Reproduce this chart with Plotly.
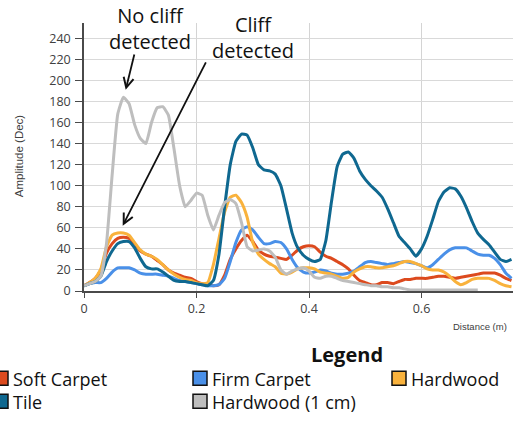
import plotly.graph_objects as go

# ---------------- data ----------------
distance_m = [round(i * 0.01, 2) for i in range(77)]  # 0.00 .. 0.76 m sample grid

soft_carpet = [5, 8, 12, 20, 36, 45, 50, 51, 50, 45,
               38, 35, 33, 29, 25, 20, 17, 15, 13, 12,
               9, 7, 6, 5, 6, 15, 30, 40, 48, 53,
               47, 39, 35, 33, 32, 31, 30, 34, 39, 42,
               43, 42, 37, 33, 31, 28, 25, 21, 15, 10,
               8, 6, 6, 8, 8, 7, 9, 11, 11, 12,
               12, 12, 13, 14, 14, 13, 12, 13, 14, 15,
               16, 17, 17, 17, 15, 12, 10]

firm_carpet = [5, 7, 8, 8, 12, 18, 22, 22, 22, 20,
               17, 16, 16, 16, 15, 14, 12, 10, 9, 8,
               7, 6, 5, 5, 6, 12, 28, 46, 58, 61,
               58, 51, 45, 45, 47, 46, 40, 30, 22, 18,
               17, 18, 20, 19, 17, 16, 16, 17, 19, 23,
               27, 28, 27, 26, 25, 26, 27, 28, 27, 26,
               24, 22, 25, 30, 35, 39, 41, 41, 41, 38,
               35, 34, 34, 31, 25, 17, 12]

hardwood = [5, 8, 12, 21, 42, 53, 55, 55, 53, 46,
            39, 35, 33, 30, 25, 20, 16, 13, 11, 10,
            8, 7, 8, 25, 50, 75, 89, 91, 84, 70,
            46, 35, 30, 26, 23, 17, 16, 18, 21, 22,
            22, 21, 18, 17, 16, 14, 12, 13, 18, 21,
            23, 23, 22, 22, 23, 24, 26, 28, 28, 26,
            24, 21, 20, 20, 18, 14, 9, 6, 8, 11,
            12, 12, 12, 10, 7, 5, 4]

tile = [5, 7, 9, 14, 28, 38, 45, 47, 47, 41,
        31, 23, 21, 21, 18, 14, 10, 9, 9, 8,
        7, 6, 5, 10, 35, 80, 120, 142, 149, 148,
        136, 120, 115, 114, 111, 100, 78, 55, 41, 34,
        30, 28, 30, 48, 85, 118, 130, 132, 126, 114,
        106, 100, 95, 89, 78, 65, 52, 46, 40, 33,
        40, 52, 68, 85, 94, 98, 97, 90, 79, 66,
        55, 49, 44, 37, 30, 28, 30]

hardwood_1cm = [5, 7, 9, 14, 45, 110, 168, 184, 178, 158,
                145, 140, 160, 174, 175, 167, 135, 100, 80, 86,
                93, 91, 72, 58, 72, 84, 87, 83, 65, 42,
                38, 39, 40, 38, 32, 20, 16, 19, 21, 22,
                19, 13, 12, 14, 14, 12, 10, 9, 8, 7,
                6, 5, 5, 4, 4, 3, 3, 2, 1, 1,
                1, 1, 1, 1, 1, 1, 1, 1, 1, 1, 1]   # ends at 0.70 m

series_names = ["Soft Carpet", "Firm Carpet", "Hardwood", "Tile", "Hardwood (1 cm)"]
series_values = [soft_carpet, firm_carpet, hardwood, tile, hardwood_1cm]
series_colors = ["#DC4A1E", "#4A90E8", "#F9B23C", "#0F6890", "#BEBEBE"]

x_ticks = [0, 0.2, 0.4, 0.6]
x_tick_labels = ["0", "0.2", "0.4", "0.6"]
y_ticks = list(range(0, 241, 20))

# ---------------- layout geometry (pixels) ----------------
W, H = 513, 424
PL, PR, PT, PB = 84, 513, 23, 291.5


def px_x(px):
    return (px - PL) / (PR - PL)


def px_y(py):
    return (PB - py) / (PB - PT)


fig = go.Figure()
for name, vals, col in zip(series_names, series_values, series_colors):
    fig.add_trace(go.Scatter(
        x=distance_m[:len(vals)], y=vals, name=name, mode="lines",
        line=dict(color=col, width=3, shape="spline", smoothing=0.4),
        showlegend=False, hoverinfo="x+y+name",
    ))

tick_font = dict(family="Open Sans, Liberation Sans, Arial", size=12.5, color="#404040")

fig.update_layout(
    width=W, height=H,
    margin=dict(l=PL, r=W - PR, t=PT, b=H - PB, pad=0),
    paper_bgcolor="white", plot_bgcolor="white",
    showlegend=False,
    xaxis=dict(
        range=[0, (PR - PL) / 562.5], tickvals=x_ticks, ticktext=x_tick_labels,
        showgrid=True, gridcolor="#D4D4D4", gridwidth=1, zeroline=False,
        showline=True, linecolor="#4A4A4A", linewidth=1.5,
        ticks="outside", ticklen=5, tickcolor="#4A4A4A", tickwidth=1,
        tickfont=tick_font,
    ),
    yaxis=dict(
        range=[0, (PB - PT) / 1.055], tickvals=y_ticks,
        showgrid=True, gridcolor="#D9D9D9", gridwidth=1, zeroline=False,
        showline=True, linecolor="#4A4A4A", linewidth=1.5,
        ticks="outside", ticklen=7, tickcolor="#4A4A4A", tickwidth=1,
        tickfont=tick_font, ticklabelstandoff=2,
    ),
)

annotations = []
# axis titles
annotations.append(dict(text="Distance (m)", xref="paper", yref="paper",
                        x=px_x(509), y=px_y(327), xanchor="right", yanchor="middle",
                        showarrow=False,
                        font=dict(family="Liberation Sans, Arial", size=9.5, color="#404040")))
annotations.append(dict(text="Amplitude (Dec)", xref="paper", yref="paper",
                        x=px_x(19), y=px_y(156.5), xanchor="center", yanchor="middle",
                        textangle=-90, showarrow=False,
                        font=dict(family="Liberation Sans, Arial", size=11.5, color="#404040")))

# callouts
call_font = dict(family="Open Sans, Liberation Sans, Arial", size=20, color="#111111")
annotations.append(dict(text="No cliff<br>detected", xref="paper", yref="paper",
                        x=px_x(150), y=px_y(29), xanchor="center", yanchor="middle",
                        showarrow=False, font=call_font))
annotations.append(dict(text="Cliff<br>detected", xref="paper", yref="paper",
                        x=px_x(253), y=px_y(38), xanchor="center", yanchor="middle",
                        showarrow=False, font=call_font))
# arrows: head points at the peaks (data coords), tails under the callouts
annotations.append(dict(text="", x=0.0741, y=191, xref="x", yref="y",
                        ax=0.0901, ay=226, axref="x", ayref="y",
                        showarrow=True, arrowhead=5, arrowsize=1.1, arrowwidth=1.8,
                        arrowcolor="#111111", standoff=0))
annotations.append(dict(text="", x=0.0688, y=62, xref="x", yref="y",
                        ax=0.218, ay=218.5, axref="x", ayref="y",
                        showarrow=True, arrowhead=5, arrowsize=1.1, arrowwidth=1.8,
                        arrowcolor="#111111", standoff=0))

# custom legend
annotations.append(dict(text="<b>Legend</b>", xref="paper", yref="paper",
                        x=px_x(347), y=px_y(355), xanchor="center", yanchor="middle",
                        showarrow=False,
                        font=dict(family="Open Sans, Liberation Sans, Arial", size=20, color="#111111")))

legend_cols = [-6, 193, 392]    # left edge of the swatch, px
legend_rows = [372, 395]        # top edge of the swatch, px
swatch = 14
shapes = []
col_names = {0: [], 1: [], 2: []}
for i, (name, col) in enumerate(zip(series_names, series_colors)):
    r, c = divmod(i, 3)
    x0 = legend_cols[c]
    y0 = legend_rows[r]
    shapes.append(dict(type="rect", xref="paper", yref="paper",
                       x0=px_x(x0), x1=px_x(x0 + swatch), y0=px_y(y0), y1=px_y(y0 + swatch),
                       fillcolor=col, line=dict(color="#111111", width=1.5)))
    col_names[c].append(name)

for c, names in col_names.items():
    # one text block per legend column, so the rows share one line spacing
    annotations.append(dict(text="<br>".join(names), xref="paper", yref="paper",
                            x=px_x(legend_cols[c] + swatch + 3), y=px_y(legend_rows[0] - 6),
                            xanchor="left", yanchor="top", align="left", showarrow=False,
                            font=dict(family="Open Sans, Liberation Sans, Arial", size=18,
                                      color="#111111")))

fig.update_layout(annotations=annotations, shapes=shapes)

fig.write_html("out.html", config={"displayModeBar": False},
               post_script="document.body.style.margin='0px';")
